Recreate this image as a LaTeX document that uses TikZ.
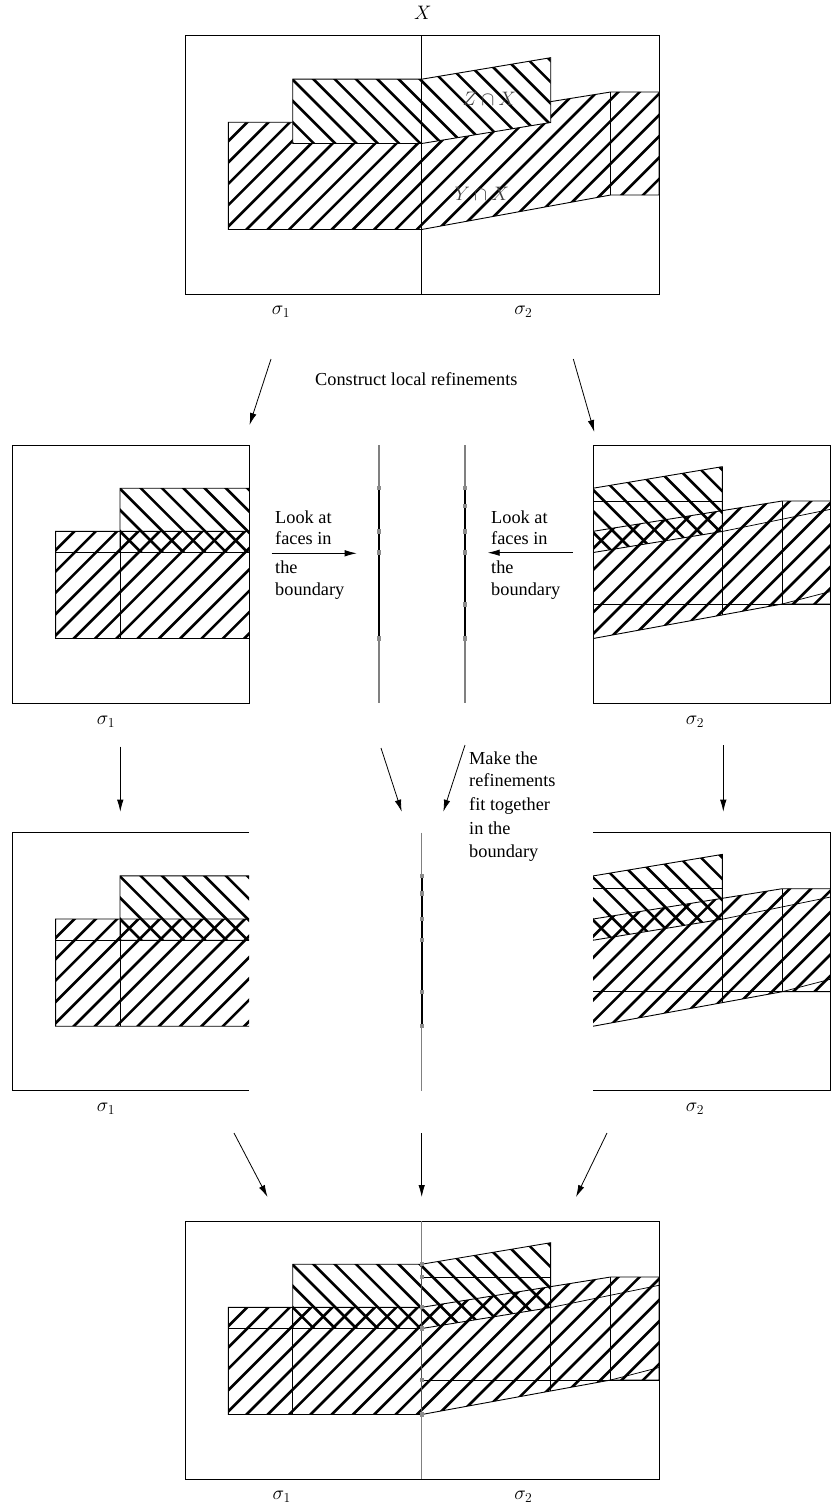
\RequirePackage{fix-cm}
\documentclass[tikz,border=0pt]{standalone}
\usepackage{fontspec}
\setmainfont{Liberation Serif}
\usetikzlibrary{arrows.meta}
\tikzset{
  hatchline/.style={line width=2.6pt},
  outline/.style={line width=0.9pt},
  face/.style={line width=0.75pt},
  boxline/.style={line width=1pt},
  arr/.style={-{Latex[length=12pt,width=6.5pt]}, line width=0.8pt},
  txt/.style={font=\fontsize{18.3}{22}\selectfont, inner sep=0pt, anchor=base west},
  lbl/.style={font=\fontsize{19.5}{23}\selectfont, inner sep=0pt},
  bnd/.style={line width=1.1pt, draw=black!50},
  bndk/.style={line width=1.7pt, draw=black},
  dotfill/.style={fill=black!45}
}
\newcommand\Ypath{(43.3,86.3) -- (236.7,86.3) -- (425.7,56) -- (474,56) -- (474,159) -- (425.7,159) -- (236.7,193.5) -- (43.3,193.5) -- cycle}
\newcommand\Zpath{(107.7,43.2) -- (236.7,43.2) -- (365.7,21.7) -- (365.7,86.5) -- (236.7,107.5) -- (107.7,107.5) -- cycle}
\newcommand\YHatch{\begin{scope}\clip \Ypath; \foreach \k in {-13,...,23}{\draw[hatchline] ({275+21.3*\k},-20) -- ({-25+21.3*\k},280);}\end{scope}}
\newcommand\ZHatch{\begin{scope}\clip \Zpath; \foreach \k in {-17,...,19}{\draw[hatchline] ({65.3+21.3*\k},-20) -- ({365.3+21.3*\k},280);}\end{scope}}
\newcommand\LeftFaces{\draw[face] (107.7,86.3) -- (107.7,193.5); \draw[face] (43.3,107.5) -- (236.7,107.5);}
\newcommand\RightFaces{%
  \draw[face] (236.7,56) -- (365.7,56);
  \draw[face] (236.7,159) -- (474,159);
  \draw[face] (365.7,21.7) -- (365.7,170.2);
  \draw[face] (425.7,56) -- (425.7,159);
  \draw[face] (365.7,86.5) -- (474,64.3);
  \draw[face] (425.7,159) -- (474,146.5);}
\newcommand\Bline[4]{%
  \draw[bnd] (#1,#2) -- (#1,{#2+258});
  \draw[bndk] (#1,{#2+#3}) -- (#1,{#2+#4});}
\newcommand\Bdots[3]{\foreach \v in {#3}{\fill[dotfill] ({#1-2.1},{#2+\v-2.1}) rectangle ({#1+2.1},{#2+\v+2.1});}}
\begin{document}
\begin{tikzpicture}[x=1pt,y=-1pt]
\useasboundingbox (0,0) rectangle (831,1509);

% ---------- top figure ----------
\begin{scope}[shift={(185,36)}]
  \YHatch
  \draw[outline] \Ypath;
  \fill[white] \Zpath;
  \ZHatch
  \draw[outline] \Zpath;
  \draw[outline] (425.7,56) -- (425.7,159);
  \draw[boxline] (0,0) rectangle (474,258);
  \draw[boxline] (236.7,0) -- (236.7,258);
\end{scope}
\node[lbl] (X) at (422.7,12.7) {$X$};
\node[lbl,text=black!75] (ZX) at (489.3,99) {$Z\cap X$};
\node[lbl,text=black!75] (YX) at (481.7,194.3) {$Y\cap X$};
\node[lbl] (s1a) at (281,311.7) {$\sigma_1$};
\node[lbl] (s2a) at (523.3,311.7) {$\sigma_2$};

% arrows row 1 -> 2
\node[font=\fontsize{18.3}{22}\selectfont, inner sep=0pt, anchor=base] (cons) at (416.3,385) {Construct local refinements};
\coordinate (r1ls) at (271,359);
\coordinate (r1le) at (249.5,425);
\coordinate (r1rs) at (573.3,359);
\coordinate (r1re) at (594.3,432);
\draw[arr] (r1ls) -- (r1le);
\draw[arr] (r1rs) -- (r1re);

% ---------- row 2 ----------
\begin{scope}[shift={(12.3,445)}]
  \begin{scope}
    \clip (-2,-2) rectangle (236.7,260);
    \YHatch \ZHatch
    \draw[outline] \Ypath; \draw[outline] \Zpath;
    \LeftFaces
  \end{scope}
  \draw[boxline] (0,0) rectangle (236.7,258);
\end{scope}
\begin{scope}[shift={(356.5,445)}]
  \begin{scope}
    \clip (236.7,-2) rectangle (480,260);
    \YHatch \ZHatch
    \draw[outline] \Ypath; \draw[outline] \Zpath;
    \RightFaces
  \end{scope}
  \draw[boxline] (236.7,0) rectangle (474,258);
\end{scope}
\node[lbl] (s1b) at (106,722) {$\sigma_1$};
\node[lbl] (s2b) at (695,722) {$\sigma_2$};

\Bline{379}{445}{43.3}{193.5}
\Bdots{379}{445}{43.3,86.5,107.5,193.5}
\Bline{465}{445}{43.3}{193.5}
\Bdots{465}{445}{43.3,60.7,86.5,107.5,159.5,193.5}

\node[txt] (la1) at (275,523.3) {Look at};
\node[txt] (fa1) at (275,544) {faces in};
\node[txt] (th1) at (275,573.3) {the};
\node[txt] (bd1) at (275,595.7) {boundary};
\coordinate (b1s) at (271.7,553.3);
\coordinate (b1e) at (356.7,553.3);
\draw[arr] (b1s) -- (b1e);
\node[txt] (la2) at (491,523.3) {Look at};
\node[txt] (fa2) at (491,544) {faces in};
\node[txt] (th2) at (491,573.3) {the};
\node[txt] (bd2) at (491,595.7) {boundary};
\coordinate (b2s) at (572.7,552.7);
\coordinate (b2e) at (487.7,552.7);
\draw[arr] (b2s) -- (b2e);

% arrows row 2 -> 3
\coordinate (r2as) at (120.3,746.7);
\coordinate (r2ae) at (120.3,811.7);
\coordinate (r2bs) at (381,748);
\coordinate (r2be) at (401.7,811.7);
\coordinate (r2cs) at (465,745);
\coordinate (r2ce) at (443.3,811.7);
\coordinate (r2ds) at (723.3,745);
\coordinate (r2de) at (723.3,811.7);
\draw[arr] (r2as) -- (r2ae);
\draw[arr] (r2bs) -- (r2be);
\draw[arr] (r2cs) -- (r2ce);
\draw[arr] (r2ds) -- (r2de);
\node[txt] (mk1) at (469,764) {Make the};
\node[txt] (mk2) at (469,786.7) {refinements};
\node[txt] (mk3) at (469,810.7) {fit together};
\node[txt] (mk4) at (469,834) {in the};
\node[txt] (mk5) at (469,857.3) {boundary};

% ---------- row 3 ----------
\begin{scope}[shift={(12.3,832.7)}]
  \begin{scope}
    \clip (-2,-2) rectangle (236.7,260);
    \YHatch \ZHatch
    \draw[outline] \Ypath; \draw[outline] \Zpath;
    \LeftFaces
  \end{scope}
  \draw[boxline] (236.7,0) -- (0,0) -- (0,258) -- (236.7,258);
\end{scope}
\begin{scope}[shift={(356.5,832.7)}]
  \begin{scope}
    \clip (236.7,-2) rectangle (480,260);
    \YHatch \ZHatch
    \draw[outline] \Ypath; \draw[outline] \Zpath;
    \RightFaces
  \end{scope}
  \draw[boxline] (236.7,0) -- (474,0) -- (474,258) -- (236.7,258);
\end{scope}
\node[lbl] (s1c) at (106,1108.5) {$\sigma_1$};
\node[lbl] (s2c) at (695,1108.5) {$\sigma_2$};
\Bline{421.7}{832.7}{43.3}{193.5}
\Bdots{421.7}{832.7}{43.3,60.7,86.5,107.5,159.5,193.5}

% arrows row 3 -> 4
\coordinate (r3as) at (234,1133);
\coordinate (r3ae) at (267.5,1197);
\coordinate (r3bs) at (421.7,1133);
\coordinate (r3be) at (421.7,1197);
\coordinate (r3cs) at (607,1133);
\coordinate (r3ce) at (576,1197);
\draw[arr] (r3as) -- (r3ae);
\draw[arr] (r3bs) -- (r3be);
\draw[arr] (r3cs) -- (r3ce);

% ---------- bottom figure ----------
\begin{scope}[shift={(185,1221)}]
  \YHatch \ZHatch
  \draw[outline] \Ypath; \draw[outline] \Zpath;
  \LeftFaces
  \RightFaces
  \draw[boxline] (0,0) rectangle (474,258);
  \draw[bnd] (236.7,0) -- (236.7,258);
  \draw[line width=1.2pt, draw=black!70] (236.7,43.2) -- (236.7,193.5);
\end{scope}
\Bdots{421.7}{1221}{43.2,56,86.3,107.5,159,193.5}
\node[lbl] (s1d) at (281.7,1496.7) {$\sigma_1$};
\node[lbl] (s2d) at (523.3,1496.7) {$\sigma_2$};
\end{tikzpicture}
\end{document}
